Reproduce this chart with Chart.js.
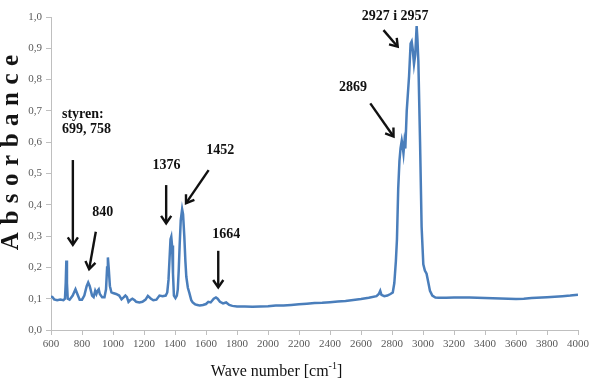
<!DOCTYPE html>
<html>
<head>
<meta charset="utf-8">
<script src="https://cdn.jsdelivr.net/npm/chart.js@4/dist/chart.umd.min.js"></script>
<style>
  html, body { margin: 0; padding: 0; background: #ffffff; }
  #wrap { width: 592px; height: 384px; }
</style>
</head>
<body>
<div id="wrap"><canvas id="c" width="592" height="384"></canvas></div>
<script>
// ---- data ----
const waveNumbers = [
  600, 610, 620, 640, 660, 680, 690, 695, 699, 703, 708, 720, 740, 758, 770, 785, 800, 815, 830, 840,
  850, 865, 875, 885, 893, 900, 908, 915, 930, 945, 955, 962, 967, 972, 980, 990, 1000, 1020, 1040, 1055,
  1070, 1080, 1090, 1100, 1110, 1125, 1140, 1150, 1170, 1190, 1210, 1225, 1245, 1260, 1280, 1300, 1320, 1340, 1350, 1358,
  1365, 1371, 1376, 1381, 1387, 1393, 1403, 1412, 1418, 1424, 1430, 1437, 1446, 1452, 1460, 1467, 1473, 1483, 1493, 1505,
  1514, 1530, 1545, 1560, 1580, 1600, 1615, 1630, 1650, 1664, 1675, 1690, 1710, 1730, 1750, 1770, 1800, 1850, 1900, 1950,
  2000, 2050, 2100, 2150, 2200, 2250, 2300, 2350, 2400, 2450, 2500, 2550, 2600, 2650, 2700, 2715, 2724, 2732, 2750, 2770,
  2790, 2805, 2815, 2825, 2832, 2840, 2848, 2855, 2863, 2868, 2874, 2880, 2886, 2895, 2910, 2920, 2927, 2933, 2942, 2950,
  2959, 2964, 2970, 2981, 2991, 3002, 3012, 3023, 3035, 3045, 3060, 3080, 3100, 3150, 3200, 3300, 3400, 3500, 3600, 3650,
  3700, 3800, 3900, 3950, 4000
];
const absorbance = [
  0.108, 0.105, 0.098, 0.095, 0.097, 0.095, 0.100, 0.150, 0.222, 0.150, 0.100, 0.097, 0.110, 0.130, 0.115, 0.097, 0.097, 0.110, 0.140, 0.152,
  0.140, 0.110, 0.105, 0.125, 0.115, 0.125, 0.130, 0.115, 0.105, 0.105, 0.130, 0.200, 0.232, 0.200, 0.140, 0.120, 0.118, 0.115, 0.110, 0.098,
  0.105, 0.110, 0.105, 0.090, 0.095, 0.100, 0.095, 0.090, 0.088, 0.090, 0.097, 0.109, 0.100, 0.095, 0.097, 0.110, 0.108, 0.110, 0.120, 0.160,
  0.230, 0.290, 0.298, 0.270, 0.180, 0.110, 0.102, 0.110, 0.130, 0.190, 0.270, 0.350, 0.386, 0.370, 0.300, 0.220, 0.170, 0.135, 0.118, 0.095,
  0.088, 0.082, 0.080, 0.078, 0.080, 0.083, 0.090, 0.088, 0.100, 0.104, 0.100, 0.090, 0.085, 0.088, 0.080, 0.077, 0.075, 0.075, 0.074, 0.075,
  0.076, 0.078, 0.078, 0.080, 0.082, 0.084, 0.086, 0.087, 0.089, 0.091, 0.093, 0.096, 0.099, 0.103, 0.108, 0.115, 0.125, 0.112, 0.108, 0.110,
  0.115, 0.120, 0.150, 0.220, 0.290, 0.450, 0.540, 0.580, 0.605, 0.590, 0.565, 0.600, 0.580, 0.700, 0.810, 0.915, 0.922, 0.900, 0.850, 0.880,
  0.971, 0.930, 0.860, 0.600, 0.330, 0.210, 0.190, 0.180, 0.150, 0.125, 0.110, 0.104, 0.103, 0.103, 0.104, 0.104, 0.102, 0.101, 0.099, 0.100,
  0.102, 0.105, 0.108, 0.110, 0.113
];
const xTickStep = 200;
const yTickStep = 0.1;
const xTitle = 'Wave number [cm';
const xTitleSup = '-1';
const xTitleEnd = ']';
const yTitle = 'Absorbance';

// annotation texts (anchored in data units)
const labelTexts = ['styren:', '699, 758', '840', '1376', '1452', '1664', '2869', '2927 i 2957'];
const labelX     = [671, 671, 934, 1345, 1692, 1730, 2549, 2820];
const labelY     = [0.690, 0.642, 0.377, 0.527, 0.573, 0.304, 0.775, 1.001];
const labelAlign = ['left', 'left', 'center', 'center', 'center', 'center', 'center', 'center'];

// arrows: from (x0,y0) to tip (x1,y1), in data units
const arrowX0 = [741, 889, 1343, 1617, 1679, 2660, 2745];
const arrowY0 = [0.543, 0.314, 0.463, 0.511, 0.253, 0.724, 0.958];
const arrowX1 = [741, 846, 1343, 1471, 1679, 2810, 2837];
const arrowY1 = [0.272, 0.194, 0.341, 0.405, 0.136, 0.618, 0.905];

const points = waveNumbers.map((w, i) => ({ x: w, y: absorbance[i] }));

const annotationPlugin = {
  id: 'annot',
  afterDatasetsDraw(chart) {
    const ctx = chart.ctx;
    const xs = chart.scales.x, ys = chart.scales.y;
    ctx.save();
    ctx.strokeStyle = '#111111';
    ctx.lineWidth = 2.4;
    ctx.lineCap = 'butt';
    ctx.lineJoin = 'miter';
    for (let i = 0; i < arrowX0.length; i++) {
      const x0 = xs.getPixelForValue(arrowX0[i]), y0 = ys.getPixelForValue(arrowY0[i]);
      const x1 = xs.getPixelForValue(arrowX1[i]), y1 = ys.getPixelForValue(arrowY1[i]);
      const ang = Math.atan2(y1 - y0, x1 - x0);
      ctx.beginPath();
      ctx.moveTo(x0, y0);
      ctx.lineTo(x1 - Math.cos(ang) * 1, y1 - Math.sin(ang) * 1);
      ctx.stroke();
      const hl = 9, hw = 0.6;
      ctx.beginPath();
      ctx.moveTo(x1 - hl * Math.cos(ang - hw), y1 - hl * Math.sin(ang - hw));
      ctx.lineTo(x1, y1);
      ctx.lineTo(x1 - hl * Math.cos(ang + hw), y1 - hl * Math.sin(ang + hw));
      ctx.stroke();
    }
    ctx.fillStyle = '#111111';
    ctx.font = 'bold 14px "Liberation Serif", "Times New Roman", serif';
    ctx.textBaseline = 'middle';
    for (let i = 0; i < labelTexts.length; i++) {
      ctx.textAlign = labelAlign[i];
      ctx.fillText(labelTexts[i], xs.getPixelForValue(labelX[i]), ys.getPixelForValue(labelY[i]));
    }
    ctx.restore();
  },
  afterDraw(chart) {
    const ctx = chart.ctx;
    const area = chart.chartArea;
    ctx.save();
    ctx.fillStyle = '#141414';
    ctx.font = 'bold 25px "Liberation Serif", "Times New Roman", serif';
    ctx.letterSpacing = '7.5px';
    ctx.textBaseline = 'middle';
    ctx.textAlign = 'left';
    const w = ctx.measureText(yTitle).width - 7.5;
    ctx.translate(12, (area.top + area.bottom) / 2 - 21);
    ctx.rotate(-Math.PI / 2);
    ctx.fillText(yTitle, -w / 2, 0);
    ctx.restore();

    ctx.save();
    ctx.fillStyle = '#111111';
    ctx.textBaseline = 'alphabetic';
    ctx.textAlign = 'left';
    const fMain = '16px "Liberation Serif", "Times New Roman", serif';
    const fSup = '10px "Liberation Serif", "Times New Roman", serif';
    ctx.font = fMain;
    const w1 = ctx.measureText(xTitle).width;
    const w3 = ctx.measureText(xTitleEnd).width;
    ctx.font = fSup;
    const w2 = ctx.measureText(xTitleSup).width;
    const total = w1 + w2 + w3;
    const cx = chart.scales.x.getPixelForValue(2055);
    let x = cx - total / 2;
    const base = 376;
    ctx.font = fMain;
    ctx.fillText(xTitle, x, base);
    x += w1;
    ctx.font = fSup;
    ctx.fillText(xTitleSup, x, base - 7);
    x += w2;
    ctx.font = fMain;
    ctx.fillText(xTitleEnd, x, base);
    ctx.restore();
  }
};

const tickFont = { family: '"Liberation Serif", "Times New Roman", serif', size: 11 };

new Chart(document.getElementById('c'), {
  type: 'line',
  data: {
    datasets: [{
      data: points,
      borderColor: '#4a7ebb',
      borderWidth: 2.5,
      pointRadius: 0,
      tension: 0,
      fill: false
    }]
  },
  options: {
    responsive: false,
    devicePixelRatio: 1,
    animation: false,
    layout: { padding: { left: 0, right: 12, top: 17, bottom: 0 } },
    plugins: { legend: { display: false }, tooltip: { enabled: false } },
    scales: {
      x: {
        type: 'linear',
        min: 600, max: 4000,
        ticks: {
          stepSize: xTickStep,
          color: '#595959',
          font: tickFont,
          padding: 3,
          maxRotation: 0,
          autoSkip: false,
          callback: v => String(v)
        },
        grid: { drawOnChartArea: false, drawTicks: true, tickLength: 5, color: '#bfbfbf' },
        border: { display: true, color: '#bfbfbf', width: 1 },
        afterFit: s => { s.height = 54; }
      },
      y: {
        min: 0, max: 1,
        ticks: {
          stepSize: yTickStep,
          color: '#595959',
          font: tickFont,
          padding: 4,
          callback: v => v.toFixed(1).replace('.', ',')
        },
        grid: { drawOnChartArea: false, drawTicks: true, tickLength: 5, color: '#bfbfbf' },
        border: { display: true, color: '#bfbfbf', width: 1 },
        afterFit: s => { s.width = 51; }
      }
    }
  },
  plugins: [annotationPlugin]
});
</script>
</body>
</html>
